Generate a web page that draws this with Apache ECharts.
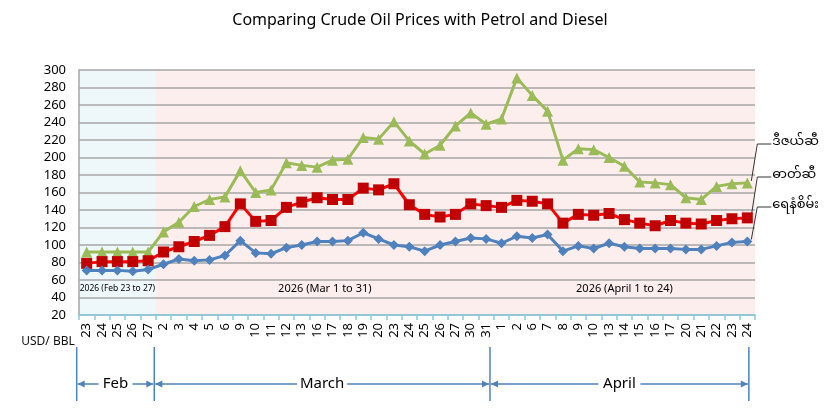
<!DOCTYPE html>
<html>
<head>
<meta charset="utf-8">
<title>Comparing Crude Oil Prices with Petrol and Diesel</title>
<script src="https://cdn.jsdelivr.net/npm/echarts@6/dist/echarts.min.js"></script>
<style>
  html, body { margin: 0; padding: 0; background: #fff; }
  #oilChart { width: 840px; height: 420px; }
</style>
</head>
<body>
<div id="oilChart"></div>
<script>
// trading days: Feb 23-27, Mar 2-31, Apr 1-24 (2026)
var dates = ['23', '24', '25', '26', '27',
    '2', '3', '4', '5', '6', '9', '10', '11', '12', '13', '16', '17', '18', '19', '20', '23', '24', '25', '26', '27', '30', '31',
    '1', '2', '6', '7', '8', '9', '10', '13', '14', '15', '16', '17', '20', '21', '22', '23', '24'];

// USD / BBL
var diesel = [92, 92, 92, 92, 92,
    115, 126, 144, 152, 155, 185, 160, 163, 194, 191, 189, 197, 198, 223, 221, 241, 219, 204, 214, 236, 251, 238,
    244, 291, 271, 253, 197, 210, 209, 200, 190, 172, 171, 169, 154, 152, 167, 170, 171];
var petrol = [79, 81, 81, 81, 82,
    92, 98, 104, 111, 121, 147, 127, 128, 143, 149, 154, 152, 152, 165, 163, 170, 146, 135, 132, 135, 147, 145,
    143, 151, 150, 147, 125, 135, 134, 136, 129, 125, 122, 128, 125, 124, 128, 130, 131];
var crude = [71, 71, 71, 70, 72,
    78, 84, 82, 83, 88, 105, 91, 90, 97, 100, 104, 104, 105, 114, 107, 100, 98, 93, 100, 104, 108, 107,
    102, 110, 108, 112, 93, 99, 96, 102, 98, 96, 96, 96, 95, 95, 99, 103, 104];

var seriesNames = ['ဒီဇယ်ဆီ', 'ဓာတ်ဆီ', 'ရေနံစိမ်း'];
var periodNotes = ['2026 (Feb 23 to 27)', '2026 (Mar 1 to 31)', '2026 (April 1 to 24)'];
var monthNames = ['Feb', 'March', 'April'];

var baseFont = '"Noto Sans", "Open Sans", sans-serif';
var myFont = '"Noto Sans Myanmar", "Padauk", "Myanmar Text", "Noto Sans", sans-serif';

var myChart = echarts.init(document.getElementById('oilChart'));

var option = {
    animation: false,
    backgroundColor: '#ffffff',
    title: {
        text: 'Comparing Crude Oil Prices with Petrol and Diesel',
        left: 'center',
        top: 7,
        textStyle: {
            fontFamily: baseFont,
            fontSize: 16,
            fontWeight: 'normal',
            color: '#000'
        }
    },
    grid: {
        left: 79,
        right: 85,
        top: 70,
        bottom: 105
    },
    xAxis: {
        type: 'category',
        data: dates,
        boundaryGap: true,
        axisLine: { lineStyle: { color: '#86cbdb', width: 1.5 } },
        axisTick: { show: true, length: 5, lineStyle: { color: '#86cbdb', width: 1.5 } },
        axisLabel: {
            interval: 0,
            rotate: 90,
            margin: 8,
            fontFamily: baseFont,
            fontSize: 13,
            color: '#000'
        },
        splitLine: { show: false }
    },
    yAxis: {
        type: 'value',
        min: 20,
        max: 300,
        interval: 20,
        axisLine: { show: true, lineStyle: { color: '#a6a6a6', width: 1.5 } },
        axisTick: { show: false },
        axisLabel: {
            margin: 13,
            fontFamily: baseFont,
            fontSize: 13,
            color: '#000'
        },
        splitLine: { lineStyle: { color: '#a6a6a6', width: 1.5 } }
    },
    series: [{
        name: seriesNames[0],
        type: 'line',
        data: diesel,
        symbol: 'triangle',
        symbolSize: 11,
        lineStyle: { color: '#9bbb59', width: 3 },
        itemStyle: { color: '#9bbb59' }
    }, {
        name: seriesNames[1],
        type: 'line',
        data: petrol,
        symbol: 'rect',
        symbolSize: 11,
        lineStyle: { color: '#ff0000', width: 3 },
        itemStyle: { color: '#c00000' }
    }, {
        name: seriesNames[2],
        type: 'line',
        data: crude,
        symbol: 'diamond',
        symbolSize: 10,
        lineStyle: { color: '#4f81bd', width: 3 },
        itemStyle: { color: '#4f81bd' }
    }]
};

myChart.setOption(option);

// decorations placed from the axis scale
function decorate() {
    var x0 = myChart.convertToPixel({ xAxisIndex: 0 }, 0);
    var step = myChart.convertToPixel({ xAxisIndex: 0 }, 1) - x0;
    var px = function(i) { return x0 + i * step; };
    var py = function(v) { return myChart.convertToPixel({ yAxisIndex: 0 }, v); };

    var top = py(300), bottom = py(20);
    var left = px(-0.5), right = px(dates.length - 0.5), split = px(4.5);
    var els = [];

    // period backgrounds
    els.push({ type: 'rect', z: -10, silent: true,
        shape: { x: left, y: top, width: split - left, height: bottom - top },
        style: { fill: '#eef8fb' } });
    els.push({ type: 'rect', z: -10, silent: true,
        shape: { x: split, y: top, width: right - split, height: bottom - top },
        style: { fill: '#fdeeee' } });

    // period notes between 40 and 60
    var noteY = py(50);
    [[2, 8.5], [15.5, 11], [35, 11]].forEach(function(n, k) {
        els.push({ type: 'text', z: 5, silent: true,
            style: { x: px(n[0]), y: noteY, text: periodNotes[k], fill: '#000',
                font: n[1] + 'px ' + baseFont, textAlign: 'center', textVerticalAlign: 'middle' } });
    });

    // unit
    els.push({ type: 'text', silent: true,
        style: { x: 48, y: bottom + 27, text: 'USD/ BBL', fill: '#111',
            font: '12px ' + baseFont, textAlign: 'center', textVerticalAlign: 'middle' } });

    // month brackets
    var edges = [px(-0.65), px(4.4), px(26.25), px(43.1)];
    var bTop = bottom + 32, bBot = bottom + 86, bMid = bottom + 69;
    var blue = '#4f81bd';
    edges.forEach(function(x) {
        els.push({ type: 'line', silent: true,
            shape: { x1: x, y1: bTop, x2: x, y2: bBot },
            style: { stroke: blue, lineWidth: 1.5 } });
    });
    var textHalf = [17, 25, 21];
    for (var m = 0; m < 3; m++) {
        var a = edges[m], b = edges[m + 1], c = (a + b) / 2;
        els.push({ type: 'text', silent: true,
            style: { x: c, y: bMid, text: monthNames[m], fill: '#000',
                font: '15px ' + baseFont, textAlign: 'center', textVerticalAlign: 'middle' } });
        // left arrow
        els.push({ type: 'line', silent: true,
            shape: { x1: a + 1, y1: bMid, x2: c - textHalf[m], y2: bMid },
            style: { stroke: blue, lineWidth: 1.5 } });
        els.push({ type: 'polygon', silent: true,
            shape: { points: [[a + 1, bMid], [a + 8, bMid - 3.5], [a + 8, bMid + 3.5]] },
            style: { fill: blue } });
        // right arrow
        els.push({ type: 'line', silent: true,
            shape: { x1: c + textHalf[m], y1: bMid, x2: b - 1, y2: bMid },
            style: { stroke: blue, lineWidth: 1.5 } });
        els.push({ type: 'polygon', silent: true,
            shape: { points: [[b - 1, bMid], [b - 8, bMid - 3.5], [b - 8, bMid + 3.5]] },
            style: { fill: blue } });
    }

    // series labels with leader lines
    var last = dates.length - 1;
    var ends = [diesel[last], petrol[last], crude[last]];
    var labelY = [144, 177, 207];
    for (var s = 0; s < 3; s++) {
        var sx = px(last) + 4, sy = py(ends[s]) - 2;
        els.push({ type: 'polyline', silent: true,
            shape: { points: [[sx, sy], [sx + 6, labelY[s]], [sx + 20, labelY[s]]] },
            style: { stroke: '#333', lineWidth: 1, fill: null } });
        els.push({ type: 'text', silent: true,
            style: { x: sx + 21, y: labelY[s], text: seriesNames[s], fill: '#000',
                font: '13px ' + myFont, textVerticalAlign: 'middle' } });
    }

    myChart.setOption({ graphic: els });
}

decorate();
</script>
</body>
</html>
